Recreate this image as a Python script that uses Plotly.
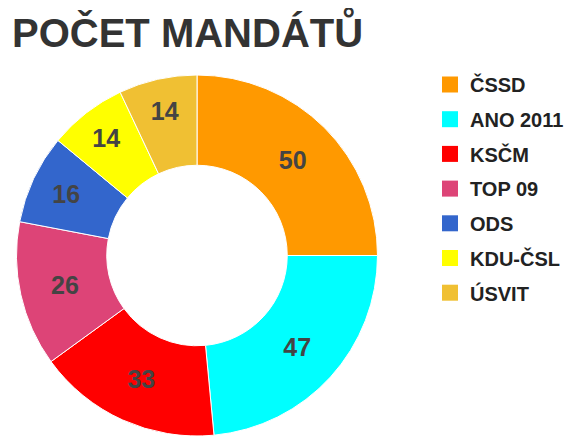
import plotly.graph_objects as go

parties = ["ČSSD", "ANO 2011", "KSČM", "TOP 09", "ODS", "KDU-ČSL", "ÚSVIT"]
seats = [50, 47, 33, 26, 16, 14, 14]
colors = ["#FF9900", "#00FFFF", "#FF0000", "#DD4477", "#3366CC", "#FFFF00", "#F0C033"]
title_text = "POČET MANDÁTŮ"

W, H = 586, 436
fig = go.Figure()

fig.add_trace(go.Pie(
    labels=parties, values=seats, hole=0.5, sort=False, direction="clockwise",
    rotation=0, marker=dict(colors=colors, line=dict(color="white", width=1)),
    textinfo="value", textposition="inside", insidetextorientation="horizontal",
    textfont=dict(family="Liberation Sans, Arial", size=25, color="#444444", weight="bold"),
    showlegend=False,
    domain=dict(x=[8 / W, 370 / W], y=[1 - 428 / H, 1 - 67 / H]),
))

# legend entries (large square swatches)
for p, c in zip(parties, colors):
    fig.add_trace(go.Scatter(
        x=[None], y=[None], mode="markers", name=p, legendgroup=p,
        marker=dict(symbol="square", size=20, color=c, line=dict(width=0)),
    ))

fig.update_layout(
    width=W, height=H,
    margin=dict(l=0, r=0, t=0, b=0),
    paper_bgcolor="white", plot_bgcolor="white",
    xaxis=dict(visible=False), yaxis=dict(visible=False),
    legend=dict(
        x=422 / W, y=1 - 57 / H, xanchor="left", yanchor="top",
        font=dict(family="Liberation Sans, Arial", size=20, color="#222222", weight="bold"),
        tracegroupgap=5.7, itemwidth=30, bgcolor="rgba(0,0,0,0)",
    ),
    annotations=[dict(
        text=title_text, x=2 / W, y=1 + 3 / H, xref="paper", yref="paper",
        xanchor="left", yanchor="top", showarrow=False,
        font=dict(family="Liberation Sans, Arial", size=40, color="#333333", weight="bold"),
    )],
)

fig.write_html("out.html")
